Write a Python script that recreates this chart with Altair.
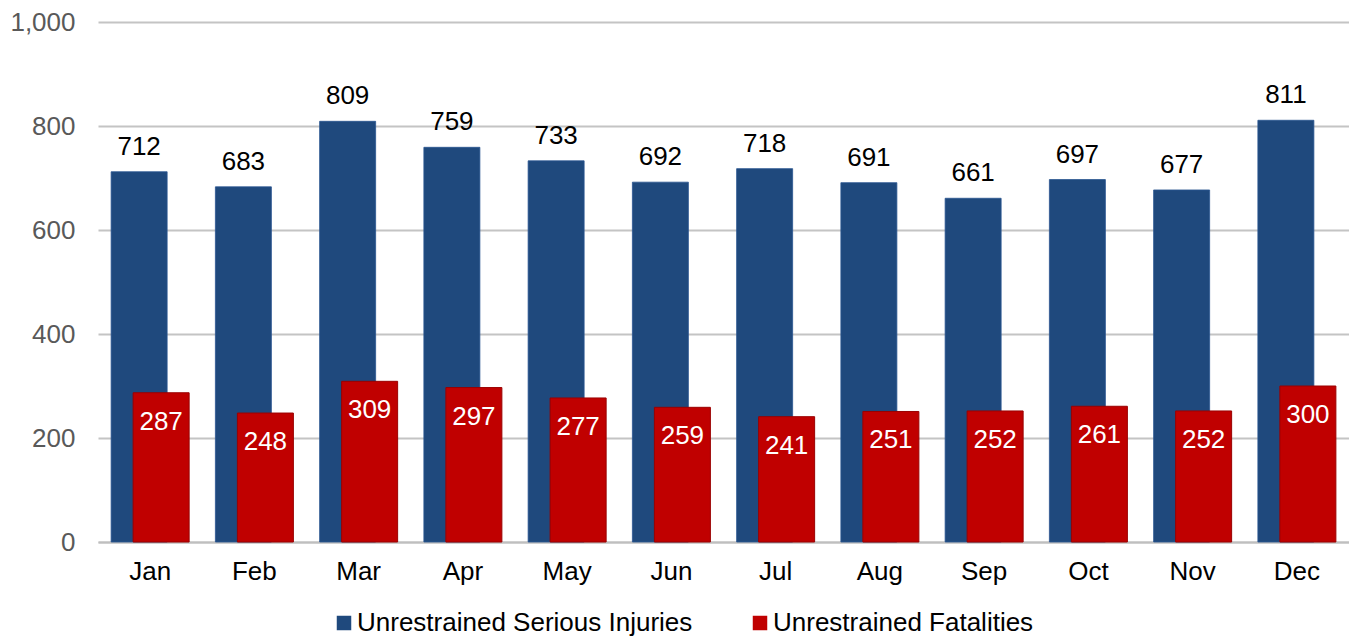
import altair as alt
import pandas as pd

months = ["Jan", "Feb", "Mar", "Apr", "May", "Jun", "Jul", "Aug", "Sep", "Oct", "Nov", "Dec"]
injuries = [712, 683, 809, 759, 733, 692, 718, 691, 661, 697, 677, 811]
fatalities = [287, 248, 309, 297, 277, 259, 241, 251, 252, 261, 252, 300]
series_names = ["Unrestrained Serious Injuries", "Unrestrained Fatalities"]
colors = ["#1f497d", "#c00000"]
y_ticks = [0, 200, 400, 600, 800, 1000]

rows = []
for m, a, b in zip(months, injuries, fatalities):
    rows.append({"month": m, "series": series_names[0], "value": a})
    rows.append({"month": m, "series": series_names[1], "value": b})
df = pd.DataFrame(rows)

FS = 26

x = alt.X("month:N", sort=months,
          scale=alt.Scale(paddingInner=0, paddingOuter=0),
          axis=alt.Axis(title=None, labelAngle=0, labelFontSize=FS, labelColor="#000000",
                        labelPadding=16, ticks=False, domainColor="#bfbfbf", domainWidth=2,
                        grid=False))
y = alt.Y("value:Q", scale=alt.Scale(domain=[0, 1000], nice=False),
          axis=alt.Axis(values=y_ticks, format=",.0f", title=None, ticks=False, domain=False,
                        gridColor="#c4c4c4", gridWidth=2, labelFontSize=FS,
                        labelColor="#595959", labelPadding=23))
color = alt.Color("series:N",
                  scale=alt.Scale(domain=series_names, range=colors),
                  legend=alt.Legend(orient="none", legendX=233, legendY=588,
                                    direction="horizontal", title=None, symbolType="square",
                                    symbolSize=210, labelFontSize=FS, labelColor="#000000",
                                    columnPadding=54, symbolStrokeWidth=0, labelOffset=0,
                                    padding=0, labelLimit=600))

base = alt.Chart(df)
blue = base.transform_filter(alt.datum.series == series_names[0])
red = base.transform_filter(alt.datum.series == series_names[1])

blue_bars = blue.mark_bar(width=56, xOffset=-11, stroke="#2a5690", strokeWidth=0.8).encode(x=x, y=y, color=color)
red_bars = red.mark_bar(width=56, xOffset=11, stroke="#9a0000", strokeWidth=1).encode(x=x, y=y, color=color)
blue_text = blue.mark_text(xOffset=-11, dy=-17, baseline="alphabetic", fontSize=FS, color="#000000").encode(
    x=x, y=y, text="value:Q")
red_text = red.mark_text(xOffset=11, dy=37, baseline="alphabetic", fontSize=FS, color="#ffffff").encode(
    x=x, y=y, text="value:Q")

chart = alt.layer(blue_bars, red_bars, blue_text, red_text).properties(
    width=1251, height=520,
    autosize=alt.AutoSizeParams(type="none"),
    padding={"left": 90, "top": 14, "right": 0, "bottom": 94},
).configure(font="Liberation Sans").configure_view(stroke=None)

chart.save("out.html", embed_options={"renderer": "svg", "actions": False})
